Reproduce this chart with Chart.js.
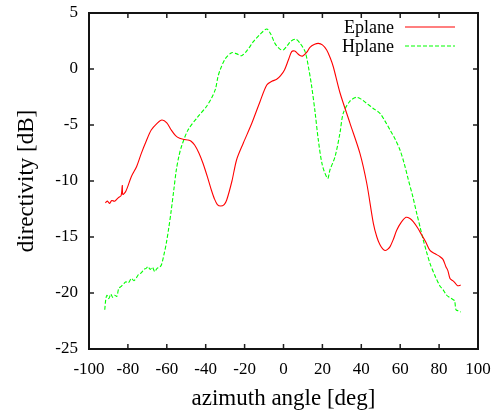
<!DOCTYPE html>
<html lang="en">
  <head>
    <meta charset="UTF-8" />
    <title>directivity</title>
    <script src="https://cdn.jsdelivr.net/npm/chart.js"></script>
    <style>
      body {
        margin: 0;
        padding: 0;
        background: #fff;
      }
    </style>
  </head>
  <body>
    <canvas id="dirChart" width="498" height="413"></canvas>

    <script>
      // values
      const eplaneAngle = [
        -91.6, -90.5, -89.5, -88.3, -86.8, -85.0, -83.5, -82.9, -82.6, -81.0,
        -78.2, -75.5, -73.1, -70.5, -68.0, -65.0, -62.5, -60.0, -57.7, -55.5,
        -53.4, -51.0, -49.1, -47.5, -45.7, -43.5, -41.4, -39.0, -37.1, -35.5,
        -34.0, -32.3, -30.5, -29.2, -26.5, -24.1, -20.7, -16.3, -12.1, -8.6,
        -6.0, -3.5, -1.5, 0.5, 2.5, 4.2, 5.8, 7.1, 8.5, 9.9, 12.0, 13.6, 16.0,
        17.9, 20.0, 22.2, 24.0, 25.6, 29.0, 34.2, 39.3, 42.8, 46.2, 48.0, 49.6,
        51.0, 52.2, 53.5, 54.8, 56.5, 58.2, 60.5, 63.0, 65.0, 66.7, 69.0, 71.0,
        73.0, 75.3, 78.0, 80.5, 82.0, 83.5, 84.5, 85.6, 87.0, 88.2, 89.5, 91.1,
      ];
      const eplaneValue = [
        -11.94, -11.8, -12.0, -11.75, -11.8, -11.5, -11.3, -10.4, -11.2, -10.9,
        -9.6, -8.7, -7.53, -6.4, -5.45, -4.85, -4.55, -4.8, -5.45, -5.95,
        -6.19, -6.3, -6.34, -6.45, -6.79, -7.5, -8.42, -9.7, -10.8, -11.6,
        -12.1, -12.23, -12.1, -11.7, -10.0, -8.1, -6.63, -4.85, -2.92, -1.43,
        -1.1, -0.92, -0.6, -0.09, 0.8, 1.55, 1.6, 1.4, 1.2, 1.16, 1.5, 1.94, 2.2,
        2.29, 2.15, 1.7, 1.0, 0.2, -2.1, -4.85, -7.53, -10.2, -13.78, -15.0,
        -15.7, -16.05, -16.2, -16.1, -15.86, -15.2, -14.4, -13.7, -13.24, -13.35,
        -13.63, -14.2, -14.8, -15.4, -16.2, -16.5, -16.76, -17.0, -17.65, -18.0,
        -18.7, -18.9, -19.1, -19.35, -19.3,
      ];

      const hplaneAngle = [
        -91.9, -91.4, -90.8, -89.8, -88.8, -87.8, -86.8, -85.7, -84.7, -83.4,
        -82.3, -81.0, -79.8, -78.2, -76.9, -75.5, -74.3, -73.1, -71.8, -70.6,
        -69.7, -68.5, -67.4, -66.2, -65.0, -63.8, -62.8, -61.5, -60.3, -59.0,
        -57.7, -56.4, -55.1, -53.8, -52.5, -49.1, -44.0, -39.7, -37.0, -35.0,
        -33.7, -32.6, -30.0, -26.6, -24.0, -21.5, -18.5, -15.5, -12.0, -8.6,
        -6.5, -4.4, -2.0, -0.1, 2.0, 4.0, 6.4, 8.5, 11.1, 12.8, 14.5, 16.2, 17.9,
        20.0, 22.7, 23.9, 26.5, 29.0, 30.7, 34.0, 37.3, 40.0, 42.8, 46.0, 49.6,
        52.0, 54.8, 57.5, 59.9, 62.0, 64.2, 66.5, 68.5, 70.2, 71.9, 73.5, 75.3,
        78.0, 80.5, 82.0, 83.9, 85.5, 87.3, 88.0, 88.7, 90.0, 91.1,
      ];
      const hplaneValue = [
        -21.5, -20.6, -20.2, -20.5, -20.1, -20.4, -20.2, -20.3, -19.6, -19.4,
        -19.2, -19.0, -19.1, -18.7, -18.9, -18.6, -18.3, -18.2, -17.9, -17.8,
        -17.65, -17.9, -17.7, -18.1, -17.8, -17.7, -17.5, -16.6, -15.6, -14.2,
        -12.6, -10.8, -9.0, -7.8, -6.94, -5.45, -4.26, -3.37, -2.6, -1.8,
        -0.69, -0.09, 0.9, 1.46, 1.35, 1.19, 1.7, 2.44, 3.1, 3.57, 3.1, 2.29,
        1.8, 1.7, 2.1, 2.5, 2.65, 2.3, 1.55, 0.2, -1.58, -3.8, -6.34, -8.6,
        -9.76, -9.0, -7.83, -5.74, -3.96, -2.9, -2.53, -2.7, -3.07, -3.5, -3.96,
        -4.6, -5.45, -6.3, -7.23, -8.4, -9.9, -11.4, -12.9, -14.1, -15.3, -16.3,
        -17.35, -18.5, -19.4, -19.7, -20.2, -20.4, -20.6, -20.7, -21.5, -21.6,
        -21.7,
      ];

      const xTicks = [-100, -80, -60, -40, -20, 0, 20, 40, 60, 80, 100];
      const yTicks = [-25, -20, -15, -10, -5, 0, 5];

      const serif = "'Liberation Serif', 'DejaVu Serif', serif";

      const toPoints = (xs, ys) => xs.map((x, i) => ({ x: x, y: ys[i] }));

      const noPad = (s) => {
        s.paddingTop = 0;
        s.paddingBottom = 0;
        s.paddingLeft = 0;
        s.paddingRight = 0;
      };

      // gnuplot look: closed box, short inward ticks on all sides, key top right
      const gnuplotFrame = {
        id: "gnuplotFrame",
        afterDraw(chart) {
          const c = chart.ctx;
          const a = chart.chartArea;
          const sx = chart.scales.x;
          const sy = chart.scales.y;
          const tl = 5;
          c.save();
          c.globalAlpha = 1;
          c.setLineDash([]);
          c.strokeStyle = "rgb(30,30,30)";
          c.lineWidth = 1.5;
          xTicks.forEach((v) => {
            const px = sx.getPixelForValue(v);
            c.beginPath();
            c.moveTo(px, a.bottom);
            c.lineTo(px, a.bottom - tl);
            c.moveTo(px, a.top);
            c.lineTo(px, a.top + tl);
            c.stroke();
          });
          yTicks.forEach((v) => {
            const py = sy.getPixelForValue(v);
            c.beginPath();
            c.moveTo(a.left, py);
            c.lineTo(a.left + tl, py);
            c.moveTo(a.right, py);
            c.lineTo(a.right - tl, py);
            c.stroke();
          });
          c.strokeStyle = "rgb(20,20,20)";
          c.lineWidth = 2;
          c.strokeRect(a.left, a.top, a.right - a.left, a.bottom - a.top);

          c.font = "18px " + serif;
          c.textAlign = "right";
          c.textBaseline = "middle";
          c.lineWidth = 1.2;
          chart.data.datasets.forEach((ds, i) => {
            const y = 27 + i * 19;
            c.fillStyle = "#000";
            c.fillText(ds.label, 394, y + 1);
            c.strokeStyle = ds.borderColor;
            c.setLineDash(ds.borderDash || []);
            c.beginPath();
            c.moveTo(405, y);
            c.lineTo(455, y);
            c.stroke();
          });
          c.restore();
        },
      };

      const ctx = document.getElementById("dirChart").getContext("2d");
      new Chart(ctx, {
        type: "line",
        data: {
          datasets: [
            {
              label: "Eplane",
              data: toPoints(eplaneAngle, eplaneValue),
              borderColor: "#ff0000",
              borderWidth: 1.1,
              pointRadius: 0,
              tension: 0.3,
              fill: false,
            },
            {
              label: "Hplane",
              data: toPoints(hplaneAngle, hplaneValue),
              borderColor: "#00ff00",
              borderWidth: 1.1,
              borderDash: [4, 2],
              pointRadius: 0,
              tension: 0.3,
              fill: false,
            },
          ],
        },
        options: {
          responsive: false,
          animation: false,
          layout: { padding: { top: 13, right: 20, left: 0, bottom: 0 } },
          plugins: {
            legend: { display: false },
            tooltip: { enabled: false },
          },
          scales: {
            x: {
              type: "linear",
              min: -100,
              max: 100,
              border: { display: false },
              grid: { display: false, drawTicks: false },
              afterBuildTicks: (s) => {
                s.ticks = xTicks.map((v) => ({ value: v }));
              },
              afterFit: (s) => {
                s.height = 64;
                noPad(s);
              },
              ticks: {
                color: "#000",
                padding: 10,
                maxRotation: 0,
                font: { family: serif, size: 17 },
              },
              title: {
                display: true,
                text: "azimuth angle [deg]",
                color: "#000",
                padding: { top: 0, bottom: 0 },
                font: { family: serif, size: 23 },
              },
            },
            y: {
              type: "linear",
              min: -25,
              max: 5,
              border: { display: false },
              grid: { display: false, drawTicks: false },
              afterBuildTicks: (s) => {
                s.ticks = yTicks.map((v) => ({ value: v }));
              },
              afterFit: (s) => {
                s.width = 89;
                noPad(s);
              },
              ticks: {
                color: "#000",
                padding: 11,
                font: { family: serif, size: 17 },
              },
              title: {
                display: true,
                text: "directivity [dB]",
                color: "#000",
                padding: { top: 13, bottom: 0 },
                font: { family: serif, size: 23 },
              },
            },
          },
        },
        plugins: [gnuplotFrame],
      });
    </script>
  </body>
</html>
